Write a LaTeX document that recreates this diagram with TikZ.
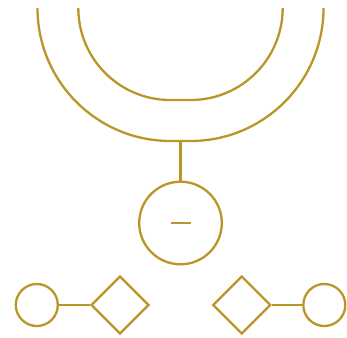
\documentclass[tikz,border=0pt]{standalone}
\usetikzlibrary{shapes.geometric}
\definecolor{gold}{RGB}{186,150,40}
\begin{document}
\begin{tikzpicture}[x=1pt,y=1pt,
  ln/.style={draw=gold,line width=2.3pt},
  bigc/.style={circle,ln,minimum size=82.6pt,inner sep=0pt},
  smallc/.style={circle,ln,minimum size=42pt,inner sep=0pt},
  dia/.style={diamond,ln,minimum width=58pt,minimum height=58pt,inner sep=0pt,shape aspect=1}]
\useasboundingbox (0,0) rectangle (347,-337);
% U arcs
\draw[ln] (37.5,-8) arc[start angle=180,end angle=270,radius=133] -- (190.5,-141) arc[start angle=270,end angle=360,radius=133];
\draw[ln] (78.3,-8) arc[start angle=180,end angle=270,radius=92] -- (190.7,-100) arc[start angle=270,end angle=360,radius=92];
\coordinate (ub) at (180.5,-141);
\node[bigc] (c) at (180.5,-223) {};
\draw[ln] (ub) -- (c);
\draw[ln] ([xshift=-10pt]c.center) -- ([xshift=10pt]c.center);
\node[smallc] (lc) at (36.8,-305) {};
\node[dia] (ld) at (120,-305) {};
\node[dia] (rd) at (241.8,-305) {};
\node[smallc] (rc) at (324.3,-305) {};
\draw[ln] (lc) -- (ld);
\draw[ln] (rd) -- (rc);
\end{tikzpicture}
\end{document}
